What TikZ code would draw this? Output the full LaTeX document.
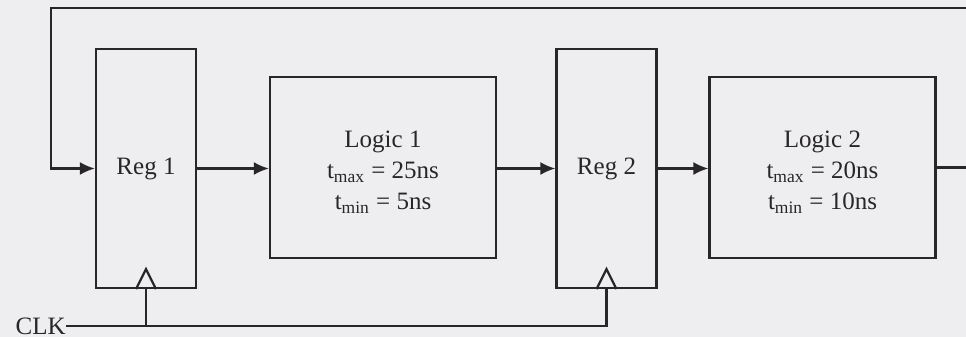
\documentclass[tikz,border=0pt]{standalone}
\usepackage{fontspec}
\setmainfont{Liberation Serif}
\usetikzlibrary{arrows.meta}
\definecolor{paper}{RGB}{238,237,239}
\definecolor{ink}{RGB}{40,38,40}
\tikzset{
	wire/.style = {draw=ink, line width=1.1pt},
	sig/.style = {wire, -{Latex[length=7.5pt, width=6.5pt]}},
	reg/.style = {wire, minimum width=50pt, minimum height=119.5pt, inner sep=0pt},
	logic/.style = {wire, minimum width=113pt, minimum height=90.5pt, inner sep=0pt},
	delays/.style = {align=center, inner sep=0pt, yshift=-2.5pt}
}

\begin{document}
\begin{tikzpicture}[x=0.5pt, y=-0.5pt, font=\fontsize{12.5}{15.5}\selectfont, text=ink]
						\fill[paper] (0,0) rectangle (966,337);
						\useasboundingbox (0,0) rectangle (966,337);
						% ====== Registers ========
						\node[reg] (reg1) at (146,168.5) {Reg 1};
						\node[reg] (reg2) at (606.5,168.5) {Reg 2};
						% ====== Logic ========
						\node[logic] (logic1) at (383,167.5) {};
						\node[logic] (logic2) at (822.5,167.5) {};
						\node[delays] (d1) at (logic1.center) {Logic 1\\t\textsubscript{max} = 25ns\\t\textsubscript{min} = 5ns};
						\node[delays] (d2) at (logic2.center) {Logic 2\\t\textsubscript{max} = 20ns\\t\textsubscript{min} = 10ns};
						\node[anchor=east, inner sep=0pt] (clk) at (66,326) {CLK};
						\coordinate (out) at (970,167.5);
						\coordinate (fbR) at (970,8);
						\coordinate (fbL) at (51,8);
						% ====== Data path ========
						\draw[sig] (reg1.east) -- (logic1.west |- reg1.east);
						\draw[sig] (logic1.east |- reg2.west) -- (reg2.west);
						\draw[sig] (reg2.east) -- (logic2.west |- reg2.east);
						\draw[wire] (logic2.east) -- (out);
						\draw[sig] (fbR) -- (fbL) |- (reg1.west);
						% ====== Clock ========
						\draw[wire] (clk.east) -- (clk.east -| reg2.south) -- (reg2.south);
						\draw[wire] (reg1.south) -- (reg1.south |- clk.east);
						\foreach \r in {reg1,reg2} {\draw[wire, line join=miter] ([xshift=-5pt]\r.south) -- ([yshift=10pt]\r.south) -- ([xshift=5pt]\r.south);}
					\end{tikzpicture}
\end{document}
